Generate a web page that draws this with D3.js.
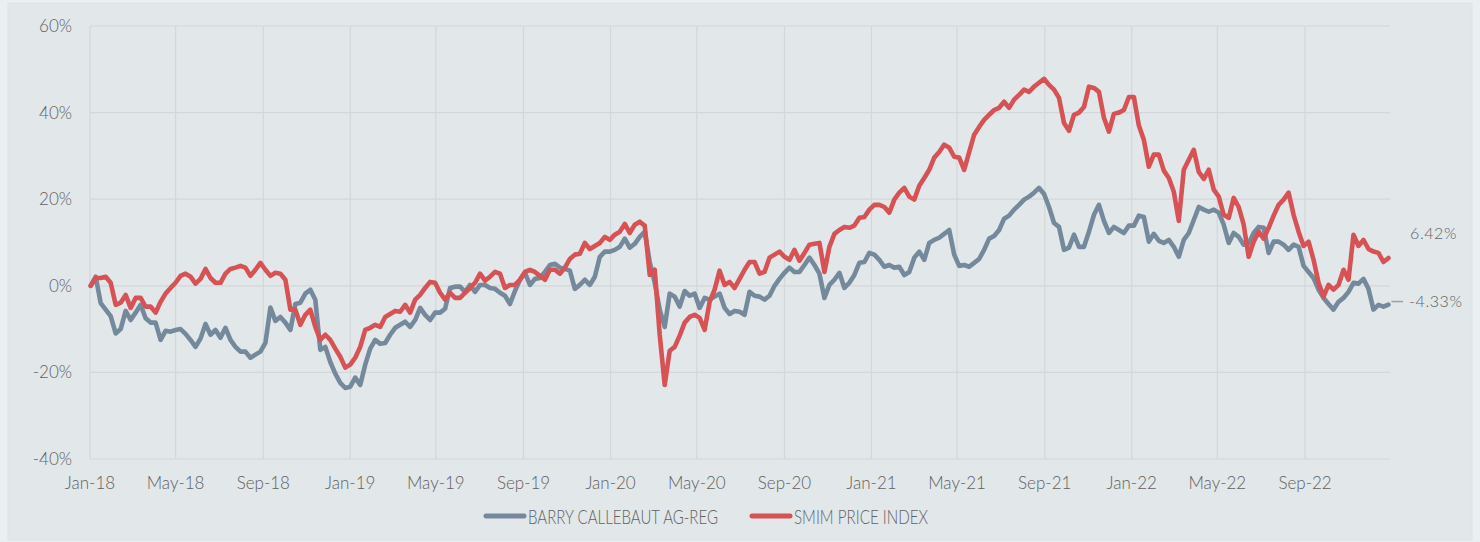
<!DOCTYPE html>
<html><head><meta charset="utf-8">
<script src="https://cdn.jsdelivr.net/npm/d3@7"></script>
<style>
html,body{margin:0;padding:0;background:#eaeff1;}
svg{display:block;}
text{font-family:Lato,"Open Sans",sans-serif;}
</style></head><body>
<svg id="chart" width="1480" height="542"></svg>
<script>
const seriesNames = ["BARRY CALLEBAUT AG-REG", "SMIM PRICE INDEX"];
const seriesColors = ["#74899c", "#d65254"];
// weekly cumulative performance (%), starting 2 Jan 2018
const barry = [
 0, 2.1, -4.0, -5.5, -7.0, -11.0, -10.0, -5.8, -7.9, -6.2,
 -4.4, -7.5, -8.5, -8.5, -12.5, -10.4, -10.6, -10.2, -10.0, -11.1,
 -12.5, -14.1, -12.2, -8.8, -11.3, -10.2, -12.0, -9.7, -12.5, -14.1,
 -15.2, -15.2, -16.6, -15.9, -15.2, -13.2, -5.0, -8.1, -7.2, -8.5,
 -10.2, -4.2, -3.9, -1.8, -0.9, -3.2, -14.8, -14.1, -17.6, -20.3,
 -22.4, -23.6, -23.3, -21.2, -22.9, -18.2, -14.5, -12.5, -13.4, -13.2,
 -11.3, -9.7, -9.0, -8.3, -9.5, -7.9, -5.1, -6.7, -7.9, -6.2,
 -6.2, -5.3, -0.5, -0.2, -0.2, -1.4, 0.2, -1.4, 0.2, 0.2,
 -0.5, -0.7, -1.6, -2.3, -4.2, -1.2, 1.4, 3.0, 0.2, 1.6,
 1.8, 3.2, 4.8, 5.1, 4.2, 3.9, 3.5, -0.7, 0.2, 1.4,
 0.2, 2.1, 6.7, 7.9, 7.9, 8.3, 9.0, 10.9, 8.8, 9.7,
 11.3, 12.5, 5.5, 0.7, -5.5, -9.5, -1.8, -2.5, -4.8, -1.2,
 -2.3, -1.8, -5.1, -2.8, -3.2, -2.5, -1.8, -5.1, -6.5, -5.8,
 -6.0, -6.7, -1.4, -2.3, -2.5, -3.2, -2.3, 0, 1.6, 3.0,
 4.2, 3.2, 3.2, 4.8, 6.5, 4.8, 2.8, -2.8, 0.2, 1.4,
 3.0, -0.5, 0.7, 2.5, 5.3, 5.5, 7.6, 7.2, 6.0, 4.4,
 4.8, 4.2, 4.4, 2.5, 3.2, 6.5, 7.9, 6.0, 9.9, 10.6,
 11.1, 12.0, 12.9, 7.2, 4.6, 4.8, 4.4, 5.3, 6.2, 8.3,
 10.9, 11.5, 12.9, 15.5, 16.2, 17.6, 18.7, 19.9, 20.6, 21.5,
 22.6, 21.2, 18.2, 14.5, 13.6, 8.3, 8.8, 11.8, 9.0, 9.0,
 12.5, 16.4, 18.7, 15.0, 12.2, 13.6, 12.9, 12.2, 13.9, 13.9,
 16.2, 15.9, 10.2, 12.0, 10.4, 9.9, 10.6, 9.0, 6.7, 10.6,
 12.2, 15.2, 18.2, 17.6, 17.1, 17.6, 16.9, 14.1, 9.9, 12.2,
 11.3, 9.5, 9.7, 12.2, 13.6, 13.4, 7.6, 10.2, 10.2, 9.5,
 8.3, 9.5, 9.0, 4.6, 3.2, 1.8, -0.9, -2.8, -4.2, -5.5,
 -3.7, -2.8, -1.4, 0.7, 0.5, 1.6, -0.7, -5.5, -4.4, -4.8,
 -4.33
];
const smim = [
 0, 1.8, 1.8, 2.1, 0.7, -4.4, -3.9, -2.1, -5.1, -2.8,
 -2.8, -4.8, -4.8, -6.2, -3.7, -1.8, -0.5, 0.7, 2.3, 2.8,
 2.1, 0.5, 1.6, 3.9, 1.8, 0.7, 0.7, 2.8, 3.9, 4.2,
 4.6, 4.2, 2.3, 3.7, 5.3, 3.7, 2.3, 3.0, 2.8, 1.4,
 -5.5, -5.5, -9.0, -6.7, -5.5, -9.5, -12.5, -11.3, -12.5, -14.5,
 -16.4, -18.9, -18.2, -16.6, -14.1, -10.2, -9.7, -9.0, -9.5, -7.2,
 -6.5, -5.8, -6.0, -4.4, -6.2, -3.2, -2.1, -0.5, 0.9, 0.7,
 -1.6, -3.2, -1.6, -2.8, -2.8, -1.6, -0.5, 0.7, 2.8, 1.2,
 2.1, 3.2, 2.8, -0.5, 0.2, 0.2, 1.4, 3.2, 3.7, 3.2,
 2.3, 1.4, 3.7, 3.7, 2.8, 4.2, 6.2, 7.2, 7.4, 9.9,
 8.5, 9.2, 9.9, 11.3, 10.6, 11.8, 12.5, 14.3, 12.2, 14.1,
 14.8, 13.9, 2.5, 3.7, -11.3, -22.9, -15.0, -14.1, -11.5, -8.5,
 -7.2, -6.7, -7.4, -10.2, -3.7, -0.9, 3.5, 0.2, 0.9, -0.5,
 1.6, 3.7, 5.5, 5.5, 2.8, 3.2, 6.5, 7.2, 7.9, 6.7,
 6.0, 8.3, 5.8, 7.6, 9.5, 9.7, 9.9, 3.2, 9.0, 12.0,
 12.9, 13.6, 13.4, 13.9, 15.7, 15.9, 17.6, 18.7, 18.7, 18.2,
 16.9, 19.9, 21.5, 22.6, 20.6, 19.9, 23.1, 24.9, 26.8, 29.6,
 30.9, 32.6, 31.9, 29.8, 29.6, 26.8, 30.9, 34.9, 36.7, 38.3,
 39.5, 40.6, 41.1, 42.5, 41.1, 43.0, 44.1, 45.3, 44.8, 46.0,
 46.9, 47.8, 46.4, 45.3, 43.4, 37.6, 35.8, 39.5, 40.0, 41.3,
 46.0, 45.7, 44.8, 38.8, 35.6, 39.7, 40.0, 40.6, 43.6, 43.6,
 37.0, 33.7, 27.5, 30.3, 30.3, 26.6, 24.9, 21.7, 15.0, 26.8,
 29.1, 31.4, 26.3, 24.7, 26.8, 22.2, 20.6, 16.4, 15.7, 20.3,
 18.2, 14.1, 6.7, 10.2, 12.5, 10.9, 13.4, 16.2, 18.7, 19.9,
 21.5, 16.4, 12.5, 9.2, 10.2, 6.0, 0.7, -2.5, 0.2, -0.9,
 0.2, 3.7, 1.4, 11.8, 9.2, 10.6, 8.5, 7.9, 7.6, 5.5,
 6.42
];
const yTicks = [-40, -20, 0, 20, 40, 60];
const xTickLabels = ["Jan-18","May-18","Sep-18","Jan-19","May-19","Sep-19","Jan-20","May-20","Sep-20","Jan-21","May-21","Sep-21","Jan-22","May-22","Sep-22"];
const endLabels = ["-4.33%", "6.42%"];

const startDate = new Date(2018, 0, 2);
const dates = barry.map((d, i) => d3.timeDay.offset(startDate, i * 7));
const tickDates = xTickLabels.map(s => d3.timeParse("%b-%y")(s));

const svg = d3.select("#chart");
const m = {left: 90, right: 1392, top: 26, bottom: 459};
const textColor = "#616161";

svg.append("rect").attr("x", 8).attr("y", 3).attr("width", 1464).attr("height", 537)
  .attr("fill", "#e2e7ea").attr("stroke", "#dde4e7");

const x = d3.scaleTime().domain([new Date(2018, 0, 1), new Date(2023, 0, 1)]).range([m.left, m.right]);
const y = d3.scaleLinear().domain([-40, 60]).range([m.bottom, m.top]);

svg.append("g").selectAll("line").data(yTicks).join("line")
  .attr("x1", m.left).attr("x2", 1390)
  .attr("y1", d => y(d)).attr("y2", d => y(d))
  .attr("stroke", "#d4d7d9").attr("stroke-width", 1.2);
svg.append("g").selectAll("line").data(tickDates).join("line")
  .attr("x1", d => x(d)).attr("x2", d => x(d))
  .attr("y1", m.top).attr("y2", m.bottom)
  .attr("stroke", "#d4d7d9").attr("stroke-width", 1.2);

svg.append("g").selectAll("text").data(yTicks).join("text")
  .attr("x", 72).attr("y", d => y(d)).attr("dy", "0.35em")
  .attr("text-anchor", "end").attr("font-size", 17).attr("font-weight", 300)
  .attr("fill", textColor).text(d => d + "%");
svg.append("g").selectAll("text").data(tickDates).join("text")
  .attr("x", d => x(d)).attr("y", 489)
  .attr("text-anchor", "middle").attr("font-size", 17).attr("font-weight", 300)
  .attr("fill", textColor).text((d, i) => xTickLabels[i]);

const line = d3.line().x((d, i) => x(dates[i])).y(d => y(d)).curve(d3.curveLinear);
[barry, smim].forEach((s, k) => {
  svg.append("path").datum(s).attr("d", line)
    .attr("fill", "none").attr("stroke", seriesColors[k])
    .attr("stroke-width", 4.6).attr("stroke-linejoin", "round").attr("stroke-linecap", "round");
});

const lastX = x(dates[dates.length - 1]);
svg.append("line").attr("x1", lastX + 3).attr("x2", 1403)
  .attr("y1", y(barry[barry.length - 1]) - 3).attr("y2", y(barry[barry.length - 1]) - 3)
  .attr("stroke", "#a0a0a0").attr("stroke-width", 1.5);
svg.append("text").attr("x", 1409).attr("y", y(barry[barry.length - 1]) - 3).attr("dy", "0.35em")
  .attr("font-size", 16).attr("font-weight", 300).attr("fill", textColor).attr("letter-spacing", 0.6)
  .text(endLabels[0]);
svg.append("text").attr("x", 1410).attr("y", y(smim[smim.length - 1]) - 25).attr("dy", "0.35em")
  .attr("font-size", 16).attr("font-weight", 300).attr("fill", textColor).attr("letter-spacing", 0.6)
  .text(endLabels[1]);

const legend = [
  {name: seriesNames[0], color: seriesColors[0], x0: 486, tw: 190},
  {name: seriesNames[1], color: seriesColors[1], x0: 752, tw: 134}
];
legend.forEach(l => {
  svg.append("line").attr("x1", l.x0).attr("x2", l.x0 + 38).attr("y1", 516).attr("y2", 516)
    .attr("stroke", l.color).attr("stroke-width", 5).attr("stroke-linecap", "round");
  svg.append("text").attr("x", l.x0 + 42).attr("y", 523.5)
    .attr("font-size", 20).attr("font-weight", 300).attr("fill", textColor)
    .attr("textLength", l.tw).attr("lengthAdjust", "spacingAndGlyphs")
    .text(l.name);
});
</script>
</body></html>
